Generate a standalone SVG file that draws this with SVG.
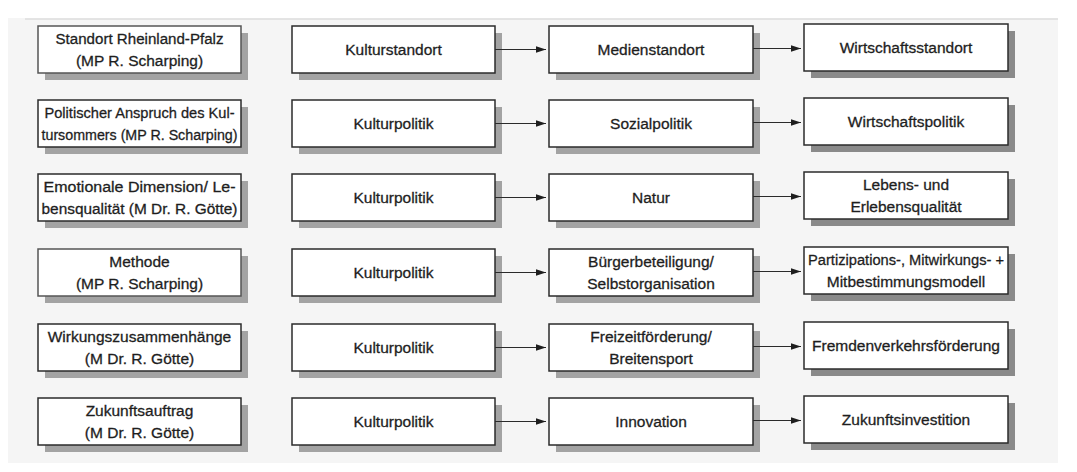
<svg xmlns="http://www.w3.org/2000/svg" width="1077" height="472" viewBox="0 0 1077 472">
<defs>
<style>
.sh{fill:#a3a3a3;}
.sd{fill:#8a8a8a;}
.bx{fill:#ffffff;stroke:#2b2b2b;stroke-width:1.5;}
.bl{fill:#ffffff;stroke:#555555;stroke-width:1.5;}
.t{font-family:"Liberation Sans",Arial,sans-serif;font-size:15.5px;fill:#1e1e1e;stroke:#1e1e1e;stroke-width:0.3;text-anchor:middle;}
.c{stroke:#2b2b2b;stroke-width:1.2;fill:none;}
</style>
<marker id="ah" markerWidth="11" markerHeight="8" refX="10" refY="4" orient="auto" markerUnits="userSpaceOnUse">
<path d="M0,0.8 L10,4 L0,7.2 Z" fill="#1e1e1e"/>
</marker>
</defs>
<rect x="0" y="0" width="1077" height="472" fill="#ffffff"/>
<rect x="8" y="18" width="1050" height="445" fill="#f5f5f5"/>
<line x1="25" y1="19" x2="1058" y2="19" stroke="#d2d2d2" stroke-width="1"/>

<!-- Row 1 -->
<g id="r1c1"><rect class="sh" x="45" y="33" width="203" height="47"/><rect class="bl" x="38" y="26" width="203" height="47"/><text class="t" x="139.5" y="44" textLength="168" lengthAdjust="spacingAndGlyphs">Standort Rheinland-Pfalz</text><text class="t" x="139.5" y="66">(MP R. Scharping)</text></g>
<g id="r1c2"><rect class="sh" x="299" y="33" width="203" height="47"/><rect class="bx" x="292" y="26" width="203" height="47"/><text class="t" x="393.5" y="55">Kulturstandort</text></g>
<g id="r1c3"><rect class="sh" x="556" y="33" width="204" height="47"/><rect class="bx" x="549" y="26" width="204" height="47"/><text class="t" x="651" y="55">Medienstandort</text></g>
<g id="r1c4"><rect class="sd" x="811" y="31" width="204" height="47"/><rect class="bx" x="804" y="24" width="204" height="47"/><text class="t" x="906" y="53">Wirtschaftsstandort</text></g>

<!-- Row 2 -->
<g id="r2c1"><rect class="sh" x="45" y="107" width="203" height="47"/><rect class="bx" x="38" y="100" width="203" height="47"/><text class="t" x="139.5" y="118" textLength="190" lengthAdjust="spacingAndGlyphs">Politischer Anspruch des Kul-</text><text class="t" x="139.5" y="140" textLength="196" lengthAdjust="spacingAndGlyphs">tursommers (MP R. Scharping)</text></g>
<g id="r2c2"><rect class="sh" x="299" y="107" width="203" height="47"/><rect class="bx" x="292" y="100" width="203" height="47"/><text class="t" x="393.5" y="129">Kulturpolitik</text></g>
<g id="r2c3"><rect class="sh" x="556" y="107" width="204" height="47"/><rect class="bx" x="549" y="100" width="204" height="47"/><text class="t" x="651" y="129">Sozialpolitik</text></g>
<g id="r2c4"><rect class="sd" x="811" y="105" width="204" height="47"/><rect class="bx" x="804" y="98" width="204" height="47"/><text class="t" x="906" y="127">Wirtschaftspolitik</text></g>

<!-- Row 3 -->
<g id="r3c1"><rect class="sh" x="45" y="181" width="203" height="47"/><rect class="bx" x="38" y="174" width="203" height="47"/><text class="t" x="139.5" y="192" textLength="192" lengthAdjust="spacingAndGlyphs">Emotionale Dimension/ Le-</text><text class="t" x="139.5" y="214" textLength="196" lengthAdjust="spacingAndGlyphs">bensqualität (M Dr. R. Götte)</text></g>
<g id="r3c2"><rect class="sh" x="299" y="181" width="203" height="47"/><rect class="bx" x="292" y="174" width="203" height="47"/><text class="t" x="393.5" y="203">Kulturpolitik</text></g>
<g id="r3c3"><rect class="sh" x="556" y="181" width="204" height="47"/><rect class="bx" x="549" y="174" width="204" height="47"/><text class="t" x="651" y="203">Natur</text></g>
<g id="r3c4"><rect class="sd" x="811" y="179" width="204" height="47"/><rect class="bx" x="804" y="172" width="204" height="47"/><text class="t" x="906" y="190">Lebens- und</text><text class="t" x="906" y="212">Erlebensqualität</text></g>

<!-- Row 4 -->
<g id="r4c1"><rect class="sh" x="45" y="256" width="203" height="47"/><rect class="bl" x="38" y="249" width="203" height="47"/><text class="t" x="139.5" y="267">Methode</text><text class="t" x="139.5" y="289">(MP R. Scharping)</text></g>
<g id="r4c2"><rect class="sh" x="299" y="256" width="203" height="47"/><rect class="bx" x="292" y="249" width="203" height="47"/><text class="t" x="393.5" y="278">Kulturpolitik</text></g>
<g id="r4c3"><rect class="sh" x="556" y="256" width="204" height="47"/><rect class="bx" x="549" y="249" width="204" height="47"/><text class="t" x="651" y="267">Bürgerbeteiligung/</text><text class="t" x="651" y="289">Selbstorganisation</text></g>
<g id="r4c4"><rect class="sd" x="811" y="254" width="204" height="47"/><rect class="bx" x="804" y="247" width="204" height="47"/><text class="t" x="906" y="265" textLength="196" lengthAdjust="spacingAndGlyphs">Partizipations-, Mitwirkungs- +</text><text class="t" x="906" y="287">Mitbestimmungsmodell</text></g>

<!-- Row 5 -->
<g id="r5c1"><rect class="sh" x="45" y="331" width="203" height="47"/><rect class="bx" x="38" y="324" width="203" height="47"/><text class="t" x="139.5" y="342">Wirkungszusammenhänge</text><text class="t" x="139.5" y="364">(M Dr. R. Götte)</text></g>
<g id="r5c2"><rect class="sh" x="299" y="331" width="203" height="47"/><rect class="bx" x="292" y="324" width="203" height="47"/><text class="t" x="393.5" y="353">Kulturpolitik</text></g>
<g id="r5c3"><rect class="sh" x="556" y="331" width="204" height="47"/><rect class="bx" x="549" y="324" width="204" height="47"/><text class="t" x="651" y="342">Freizeitförderung/</text><text class="t" x="651" y="364">Breitensport</text></g>
<g id="r5c4"><rect class="sd" x="811" y="329" width="204" height="47"/><rect class="bx" x="804" y="322" width="204" height="47"/><text class="t" x="906" y="351" textLength="188" lengthAdjust="spacingAndGlyphs">Fremdenverkehrsförderung</text></g>

<!-- Row 6 -->
<g id="r6c1"><rect class="sh" x="45" y="405" width="203" height="47"/><rect class="bx" x="38" y="398" width="203" height="47"/><text class="t" x="139.5" y="416">Zukunftsauftrag</text><text class="t" x="139.5" y="438">(M Dr. R. Götte)</text></g>
<g id="r6c2"><rect class="sh" x="299" y="405" width="203" height="47"/><rect class="bx" x="292" y="398" width="203" height="47"/><text class="t" x="393.5" y="427">Kulturpolitik</text></g>
<g id="r6c3"><rect class="sh" x="556" y="405" width="204" height="47"/><rect class="bx" x="549" y="398" width="204" height="47"/><text class="t" x="651" y="427">Innovation</text></g>
<g id="r6c4"><rect class="sd" x="811" y="403" width="204" height="47"/><rect class="bx" x="804" y="396" width="204" height="47"/><text class="t" x="906" y="425">Zukunftsinvestition</text></g>

<g id="connectors">
<line class="c" x1="495" y1="49.5" x2="546" y2="49.5" marker-end="url(#ah)"/>
<line class="c" x1="753" y1="48.5" x2="801" y2="48.5" marker-end="url(#ah)"/>
<line class="c" x1="495" y1="123.5" x2="546" y2="123.5" marker-end="url(#ah)"/>
<line class="c" x1="753" y1="122.5" x2="801" y2="122.5" marker-end="url(#ah)"/>
<line class="c" x1="495" y1="197.5" x2="546" y2="197.5" marker-end="url(#ah)"/>
<line class="c" x1="753" y1="196.5" x2="801" y2="196.5" marker-end="url(#ah)"/>
<line class="c" x1="495" y1="272.5" x2="546" y2="272.5" marker-end="url(#ah)"/>
<line class="c" x1="753" y1="271.5" x2="801" y2="271.5" marker-end="url(#ah)"/>
<line class="c" x1="495" y1="347.5" x2="546" y2="347.5" marker-end="url(#ah)"/>
<line class="c" x1="753" y1="346.5" x2="801" y2="346.5" marker-end="url(#ah)"/>
<line class="c" x1="495" y1="421.5" x2="546" y2="421.5" marker-end="url(#ah)"/>
<line class="c" x1="753" y1="420.5" x2="801" y2="420.5" marker-end="url(#ah)"/>
</g>
</svg>
